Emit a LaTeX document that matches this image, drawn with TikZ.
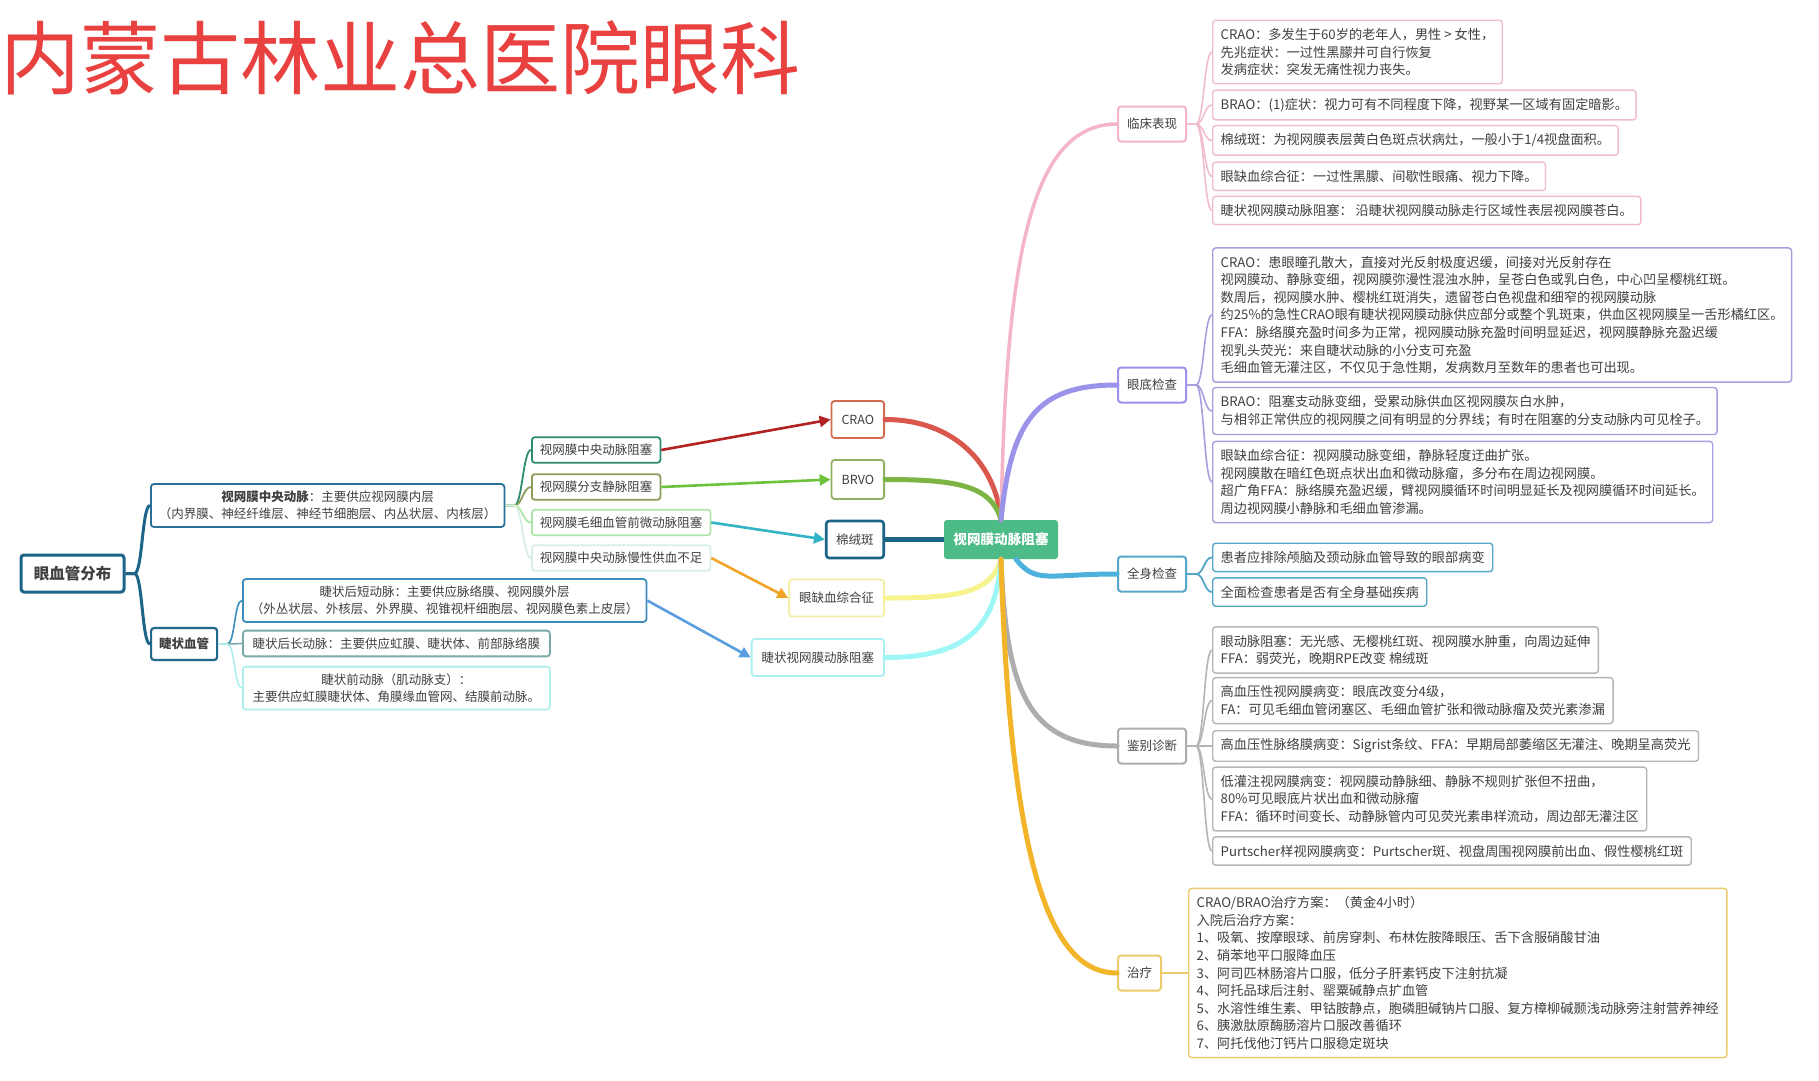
\documentclass[tikz,border=0pt]{standalone}
\usepackage{fontspec}
\setmainfont{Noto Sans CJK SC}
\usetikzlibrary{arrows.meta,calc}
\definecolor{titlered}{HTML}{E8413F}
\definecolor{txt}{HTML}{404040}
\definecolor{cgreen}{HTML}{4CBB87}
\definecolor{pinkL}{HTML}{F4B6C7}\definecolor{pinkB}{HTML}{F0BECB}
\definecolor{purpL}{HTML}{9B92EA}\definecolor{purpB}{HTML}{A6A0DE}
\definecolor{blueL}{HTML}{4DB1DB}\definecolor{blueB}{HTML}{55A7C7}
\definecolor{grayL}{HTML}{ADADAD}\definecolor{grayB}{HTML}{B5B5B5}
\definecolor{orgL}{HTML}{F2B52A}\definecolor{orgB}{HTML}{EBCB6C}
\definecolor{redL}{HTML}{D9574B}\definecolor{mOneB}{HTML}{D36B4F}
\definecolor{grnL}{HTML}{7DB544}\definecolor{mTwoB}{HTML}{8FB063}
\definecolor{dkb}{HTML}{1A6585}
\definecolor{yelL}{HTML}{F7F48E}\definecolor{mFourB}{HTML}{F3EFA8}
\definecolor{cyL}{HTML}{9EF6F6}\definecolor{mFiveB}{HTML}{ACEFF0}
\definecolor{vesselB}{HTML}{1C6589}\definecolor{craB}{HTML}{2A6F97}
\definecolor{cilB}{HTML}{1F6A8C}\definecolor{csB}{HTML}{3C8DBB}
\definecolor{clB}{HTML}{78A9A6}\definecolor{caB}{HTML}{AEEEEE}
\definecolor{lA}{HTML}{2E8B6E}\definecolor{lB}{HTML}{8A9E5A}
\definecolor{lC}{HTML}{ADE6A6}\definecolor{lD}{HTML}{D9EFE5}
\definecolor{arRed}{HTML}{B22222}\definecolor{arGrn}{HTML}{6CC23A}
\definecolor{arTeal}{HTML}{30B3C2}\definecolor{arOrg}{HTML}{F2A428}
\definecolor{arBlue}{HTML}{5A9EE0}
\tikzset{
  rbox/.style={draw=#1, rounded corners=3pt, fill=white, line width=1.4pt, inner xsep=8pt, inner ysep=8pt, align=left, anchor=west, text=txt, font=\fontsize{13.2}{17.6}\selectfont},
  lvone/.style={draw=#1, rounded corners=3pt, fill=white, line width=2pt, inner xsep=9pt, minimum height=35pt, anchor=west, text=txt, font=\fontsize{12.5}{15}\selectfont},
  lbox/.style={draw=#1, rounded corners=3pt, fill=white, line width=1.8pt, inner xsep=8pt, inner ysep=7pt, anchor=west, text=txt, font=\fontsize{12.5}{17}\selectfont},
  mbox/.style={draw=#1, rounded corners=3pt, fill=white, line width=1.8pt, inner xsep=10pt, minimum height=37pt, anchor=east, text=txt, font=\fontsize{12.5}{15}\selectfont},
  brk/.style={to path={-- ++(9,0) .. controls +(8,0) and +(-8,0) .. (\tikztotarget)}},
  thk/.style={line width=5pt, line cap=round},
  arw/.style={line width=2.6pt, -{Triangle[length=11pt,width=11pt]}},
}
\begin{document}
\begin{tikzpicture}[x=1pt,y=-1pt]
\useasboundingbox (0,0) rectangle (1819,1080);
\fill[white] (0,0) rectangle (1819,1080);

% title
\node[anchor=west, inner sep=0pt, text=titlered, font=\fontsize{80}{90}\selectfont] (title) at (0,58) {内蒙古林业总医院眼科};

% centre
\node[fill=cgreen, rounded corners=3pt, minimum width=114pt, minimum height=39pt, text=white, font=\fontsize{13.6}{15}\selectfont\bfseries] (c) at (1001,539.5) {视网膜动脉阻塞};

% middle column
\node[mbox=mOneB] (m1) at (885,419.5) {CRAO};
\node[mbox=mTwoB, minimum height=39pt] (m2) at (885,479.5) {BRVO};
\node[mbox=dkb, line width=2.6pt] (m3) at (885,539.5) {棉绒斑};
\node[mbox=mFourB] (m4) at (885,598) {眼缺血综合征};
\node[mbox=mFiveB] (m5) at (885,657.5) {睫状视网膜动脉阻塞};

% left tree
\node[draw=vesselB, line width=3pt, rounded corners=3pt, fill=white, minimum width=103pt, minimum height=37pt, text=txt, font=\fontsize{15.5}{18}\selectfont\bfseries] (vessel) at (72.5,573.5) {眼血管分布};
\node[lbox=craB, align=center] (cra) at (150,505.5) {\textbf{视网膜中央动脉}：主要供应视网膜内层\\（内界膜、神经纤维层、神经节细胞层、内丛状层、内核层）};
\node[lbox=cilB, line width=2.2pt, minimum height=32pt, font=\fontsize{12.5}{15}\selectfont\bfseries] (cil) at (150,644) {睫状血管};
\node[lbox=csB, align=center] (cs) at (242,600.5) {睫状后短动脉：主要供应脉络膜、视网膜外层\\（外丛状层、外核层、外界膜、视锥视杆细胞层、视网膜色素上皮层）};
\node[lbox=clB, minimum width=307pt, align=left] (cl) at (242,643.5) {睫状后长动脉：主要供应虹膜、睫状体、前部脉络膜};
\node[lbox=caB, minimum width=307pt, align=center] (ca) at (242,688) {睫状前动脉（肌动脉支）：\\主要供应虹膜睫状体、角膜缘血管网、结膜前动脉。};

\node[lbox=lA] (la) at (531,450) {视网膜中央动脉阻塞};
\node[lbox=lB] (lb) at (531,487) {视网膜分支静脉阻塞};
\node[lbox=lC] (lc) at (531,522.5) {视网膜毛细血管前微动脉阻塞};
\node[lbox=lD] (ld) at (531,558) {视网膜中央动脉慢性供血不足};

% right level one
\node[lvone=pinkL] (r1) at (1117,124) {临床表现};
\node[lvone=purpL] (r2) at (1117,385) {眼底检查};
\node[lvone=blueB] (r3) at (1117,574) {全身检查};
\node[lvone=grayL] (r4) at (1117,746) {鉴别诊断};
\node[lvone=orgB] (r5) at (1117,973) {治疗};

% clinical
\node[rbox=pinkB] (k1) at (1212,52) {CRAO：多发生于60岁的老年人，男性 > 女性，\\先兆症状：一过性黑朦并可自行恢复\\发病症状：突发无痛性视力丧失。};
\node[rbox=pinkB] (k2) at (1212,105) {BRAO：(1)症状：视力可有不同程度下降，视野某一区域有固定暗影。};
\node[rbox=pinkB] (k3) at (1212,140.4) {棉绒斑：为视网膜表层黄白色斑点状病灶，一般小于1/4视盘面积。};
\node[rbox=pinkB] (k4) at (1212,176.3) {眼缺血综合征：一过性黑朦、间歇性眼痛、视力下降。};
\node[rbox=pinkB] (k5) at (1212,210.5) {睫状视网膜动脉阻塞： 沿睫状视网膜动脉走行区域性表层视网膜苍白。};

% fundus
\node[rbox=purpB] (f1) at (1212,315) {CRAO：患眼瞳孔散大，直接对光反射极度迟缓，间接对光反射存在\\视网膜动、静脉变细，视网膜弥漫性混浊水肿，呈苍白色或乳白色，中心凹呈樱桃红斑。\\数周后，视网膜水肿、樱桃红斑消失，遗留苍白色视盘和细窄的视网膜动脉\\约25\%的急性CRAO眼有睫状视网膜动脉供应部分或整个乳斑束，供血区视网膜呈一舌形橘红区。\\FFA：脉络膜充盈时间多为正常，视网膜动脉充盈时间明显延迟，视网膜静脉充盈迟缓\\视乳头荧光：来自睫状动脉的小分支可充盈\\毛细血管无灌注区，不仅见于急性期，发病数月至数年的患者也可出现。};
\node[rbox=purpB] (f2) at (1212,411) {BRAO：阻塞支动脉变细，受累动脉供血区视网膜灰白水肿，\\与相邻正常供应的视网膜之间有明显的分界线；有时在阻塞的分支动脉内可见栓子。};
\node[rbox=purpB] (f3) at (1212,482) {眼缺血综合征：视网膜动脉变细，静脉轻度迂曲扩张。\\视网膜散在暗红色斑点状出血和微动脉瘤，多分布在周边视网膜。\\超广角FFA：脉络膜充盈迟缓，臂视网膜循环时间明显延长及视网膜循环时间延长。\\周边视网膜小静脉和毛细血管渗漏。};

% general
\node[rbox=blueB] (g1) at (1212,557.4) {患者应排除颅脑及颈动脉血管导致的眼部病变};
\node[rbox=blueB] (g2) at (1212,592) {全面检查患者是否有全身基础疾病};

% differential
\node[rbox=grayB] (d1) at (1212,650) {眼动脉阻塞：无光感、无樱桃红斑、视网膜水肿重，向周边延伸\\FFA：弱荧光，晚期RPE改变 棉绒斑};
\node[rbox=grayB] (d2) at (1212,700.6) {高血压性视网膜病变：眼底改变分4级，\\FA：可见毛细血管闭塞区、毛细血管扩张和微动脉瘤及荧光素渗漏};
\node[rbox=grayB] (d3) at (1212,746) {高血压性脉络膜病变：Sigrist条纹、FFA：早期局部萎缩区无灌注、晚期呈高荧光};
\node[rbox=grayB] (d4) at (1212,799) {低灌注视网膜病变：视网膜动静脉细、静脉不规则扩张但不扭曲，\\80\%可见眼底片状出血和微动脉瘤\\FFA：循环时间变长、动静脉管内可见荧光素串样流动，周边部无灌注区};
\node[rbox=grayB] (d5) at (1212,851) {Purtscher样视网膜病变：Purtscher斑、视盘周围视网膜前出血、假性樱桃红斑};

% treatment
\node[rbox=orgB] (t1) at (1188,973) {CRAO/BRAO治疗方案：（黄金4小时）\\入院后治疗方案：\\1、吸氧、按摩眼球、前房穿刺、布林佐胺降眼压、舌下含服硝酸甘油\\2、硝苯地平口服降血压\\3、阿司匹林肠溶片口服，低分子肝素钙皮下注射抗凝\\4、阿托品球后注射、罂粟碱静点扩血管\\5、水溶性维生素、甲钴胺静点，胞磷胆碱钠片口服、复方樟柳碱颞浅动脉旁注射营养神经\\6、胰激肽原酶肠溶片口服改善循环\\7、阿托伐他汀钙片口服稳定斑块};

% centre branches
\draw[thk, redL] (c.north) .. controls +(-5,-55) and +(70,0) .. (m1.east);
\draw[thk, grnL] (c.north) .. controls +(-10,-35) and +(70,0) .. (m2.east);
\draw[line width=5pt, dkb] (c.west) -- (m3.east);
\draw[thk, yelL] (c.south) .. controls +(-10,35) and +(70,0) .. (m4.east);
\draw[thk, cyL] (c.south) .. controls +(-5,70) and +(80,0) .. (m5.east);
\draw[line width=3.5pt, line cap=round, pinkL] (c.north) .. controls +(5,-250) and +(-90,0) .. (r1.west);
\draw[thk, purpL] (c.north) .. controls +(10,-100) and +(-80,0) .. (r2.west);
\draw[thk, blueL] ($(c.south)+(15,0)$) .. controls +(20,25) and +(-70,0) .. (r3.west);
\draw[thk, grayL] (c.south) .. controls +(5,130) and +(-90,0) .. (r4.west);
\draw[thk, orgL] (c.south) .. controls +(10,330) and +(-60,0) .. (r5.west);

% right brackets
\foreach \k in {k1,k2,k3,k4,k5}{\draw[pinkB, line width=1.6pt] (r1.east) to[brk] (\k.west);}
\foreach \k in {f1,f2,f3}{\draw[purpB, line width=1.6pt] (r2.east) to[brk] (\k.west);}
\foreach \k in {g1,g2}{\draw[blueB, line width=1.8pt] (r3.east) to[brk] (\k.west);}
\foreach \k in {d1,d2,d3,d4,d5}{\draw[grayB, line width=1.6pt] (r4.east) to[brk] (\k.west);}
\draw[orgB, line width=1.8pt] (r5.east) -- (t1.west);

% left brackets
\draw[vesselB, line width=3pt] (vessel.east) to[brk] (cra.west);
\draw[vesselB, line width=3pt] (vessel.east) to[brk] (cil.west);
\draw[lA, line width=1.8pt] (cra.east) to[brk] (la.west);
\draw[lB, line width=1.8pt] (cra.east) to[brk] (lb.west);
\draw[lC, line width=1.8pt] (cra.east) to[brk] (lc.west);
\draw[lD, line width=1.8pt] (cra.east) to[brk] (ld.west);
\draw[csB, line width=1.6pt] (cil.east) to[brk] (cs.west);
\draw[clB, line width=1.6pt] (cil.east) to[brk] (cl.west);
\draw[caB, line width=1.6pt] (cil.east) to[brk] (ca.west);

% arrows
\draw[arw, arRed] (la.east) -- (m1.west);
\draw[arw, arGrn] (lb.east) -- (m2.west);
\draw[arw, arTeal] (lc.east) -- (m3.west);
\draw[arw, arOrg] (ld.east) -- (m4.west);
\draw[arw, arBlue] (cs.east) -- (m5.west);
\end{tikzpicture}
\end{document}
